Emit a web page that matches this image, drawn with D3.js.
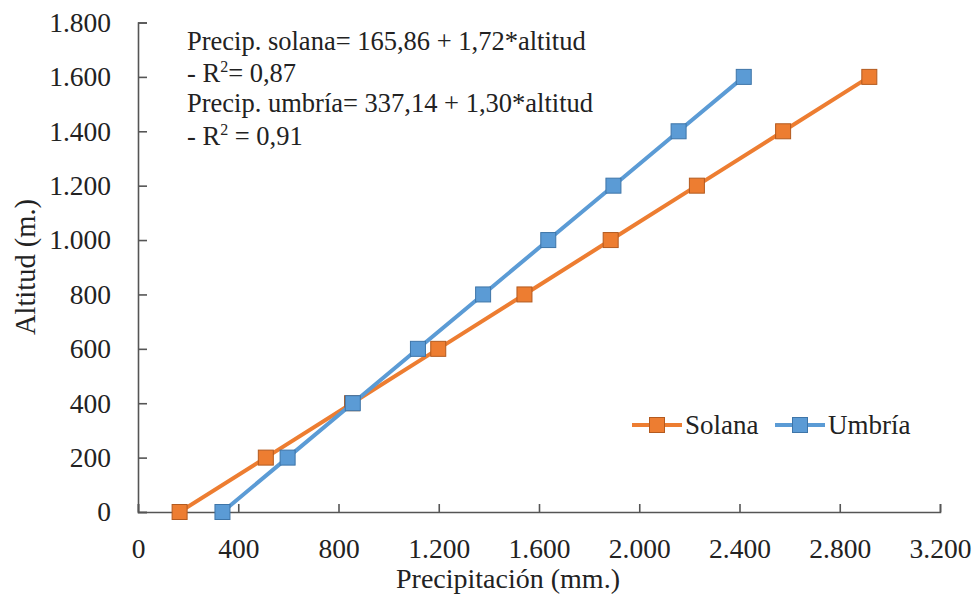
<!DOCTYPE html>
<html><head><meta charset="utf-8">
<script src="https://cdn.jsdelivr.net/npm/d3@7"></script>
<style>
html,body{margin:0;padding:0;background:#fff;}
svg text{font-family:"Liberation Serif","Times New Roman",serif;fill:#222;}
</style></head>
<body><svg id="c" width="976" height="595"></svg>
<script>
const altitudes = [0, 200, 400, 600, 800, 1000, 1200, 1400, 1600];
const solana = [166, 510, 854, 1198, 1542, 1886, 2230, 2574, 2918];
const umbria = [337, 597, 857, 1117, 1377, 1637, 1897, 2157, 2417];
const xTicks = [0, 400, 800, 1200, 1600, 2000, 2400, 2800, 3200];
const yTicks = [0, 200, 400, 600, 800, 1000, 1200, 1400, 1600, 1800];
const seriesNames = ["Solana", "Umbría"];
const colors = ["#ED7D31", "#5B9BD5"];
const strokes = ["#B35A1F", "#3E75A8"];
const notes = ["Precip. solana= 165,86 + 1,72*altitud", "- R²= 0,87", "Precip. umbría= 337,14 + 1,30*altitud", "- R² = 0,91"];

const fmt = v => d3.format(",")(v).replace(/,/g, ".");
const svg = d3.select("#c");
const x = d3.scaleLinear().domain([0, 3200]).range([138, 940]);
const y = d3.scaleLinear().domain([0, 1800]).range([512, 22.5]);

// axes
const xAxis = d3.axisBottom(x).tickValues(xTicks).tickSize(-8).tickSizeOuter(-8).tickFormat(fmt).tickPadding(26);
const gx = svg.append("g").attr("transform", "translate(0,512)").call(xAxis);
const yAxis = d3.axisLeft(y).tickValues(yTicks).tickSize(-9).tickSizeOuter(-9).tickFormat(fmt).tickPadding(27);
const gy = svg.append("g").attr("transform", "translate(138,0)").call(yAxis);
[gx, gy].forEach(g => {
  g.selectAll("path,line").attr("stroke", "#555").attr("stroke-width", 1.6);
  g.selectAll("text").style("font-family", '"Liberation Serif","Times New Roman",serif').style("font-size", "27.5px").attr("fill", "#222");
});
gx.selectAll("text").attr("dy", "0.71em");

// titles
svg.append("text").attr("x", 508).attr("y", 588).attr("text-anchor", "middle").style("font-size", "28px").text("Precipitación (mm.)");
svg.append("text").attr("transform", "translate(35,267) rotate(-90)").attr("text-anchor", "middle").style("font-size", "28.5px").text("Altitud (m.)");

// series
const line = d3.line().x(d => x(d[0])).y(d => y(d[1]));
[solana, umbria].forEach((vals, i) => {
  const pts = vals.map((v, j) => [v, altitudes[j]]);
  svg.append("path").datum(pts).attr("d", line).attr("fill", "none").attr("stroke", colors[i]).attr("stroke-width", 4);
  svg.selectAll(null).data(pts).enter().append("rect")
    .attr("x", d => x(d[0]) - 7.5).attr("y", d => y(d[1]) - 7.5)
    .attr("width", 15).attr("height", 15)
    .attr("fill", colors[i]).attr("stroke", strokes[i]).attr("stroke-width", 1);
});

// annotation
const noteY = [50, 82, 112, 145];
notes.forEach((t, i) => {
  const tx = svg.append("text").attr("x", 187).attr("y", noteY[i]).style("font-size", "26.5px");
  if (t.includes("²")) {
    const parts = t.split("²");
    tx.append("tspan").text(parts[0]);
    tx.append("tspan").attr("dy", -10).style("font-size", "16px").text("2");
    tx.append("tspan").attr("dy", 10).text(parts[1]);
  } else tx.text(t);
});

// legend
const legX = [632, 775];
seriesNames.forEach((n, i) => {
  const g = svg.append("g").attr("transform", `translate(${legX[i]},425)`);
  g.append("line").attr("x1", 0).attr("x2", 50).attr("stroke", colors[i]).attr("stroke-width", 4);
  g.append("rect").attr("x", 17.5).attr("y", -7.5).attr("width", 15).attr("height", 15).attr("fill", colors[i]).attr("stroke", strokes[i]);
  g.append("text").attr("x", 53).attr("y", 9).style("font-size", "27px").text(n);
});
</script></body></html>
